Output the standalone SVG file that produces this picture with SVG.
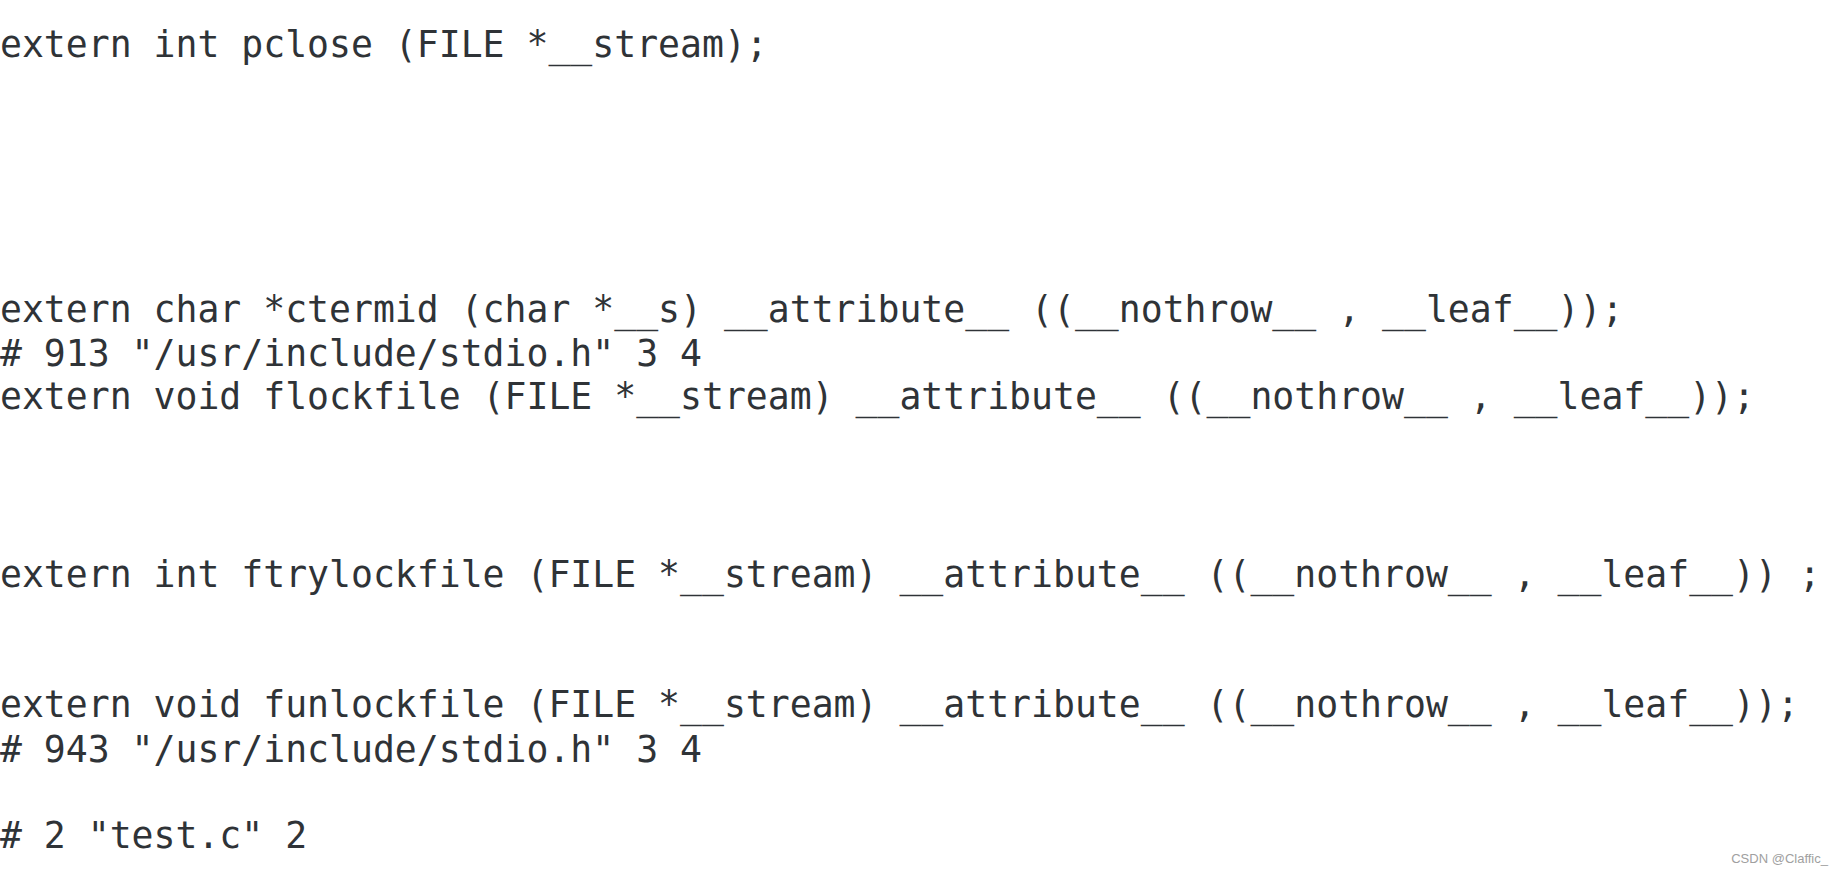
<svg xmlns="http://www.w3.org/2000/svg" width="1843" height="875" viewBox="0 0 1843 875">
<style>
.code{font-family:"DejaVu Sans Mono","Liberation Mono",monospace;font-size:36.45px;fill:#2f3337;white-space:pre}
.wm{font-family:"Liberation Sans",Arial,sans-serif;font-size:13px;fill:#a0a0a0}
</style>
<rect width="1843" height="875" fill="#ffffff"/>
<g id="code">
<text class="code" x="0" y="57.3">extern int pclose (FILE *__stream);</text>
<text class="code" x="0" y="322.3">extern char *ctermid (char *__s) __attribute__ ((__nothrow__ , __leaf__));</text>
<text class="code" x="0" y="365.5"># 913 "/usr/include/stdio.h" 3 4</text>
<text class="code" x="0" y="409">extern void flockfile (FILE *__stream) __attribute__ ((__nothrow__ , __leaf__));</text>
<text class="code" x="0" y="586.7">extern int ftrylockfile (FILE *__stream) __attribute__ ((__nothrow__ , __leaf__)) ;</text>
<text class="code" x="0" y="716.7">extern void funlockfile (FILE *__stream) __attribute__ ((__nothrow__ , __leaf__));</text>
<text class="code" x="0" y="762.3"># 943 "/usr/include/stdio.h" 3 4</text>
<text class="code" x="0" y="848.3"># 2 "test.c" 2</text>
</g>
<g id="watermark">
<text class="wm" x="1828" y="863" text-anchor="end">CSDN @Claffic_</text>
</g>
</svg>
